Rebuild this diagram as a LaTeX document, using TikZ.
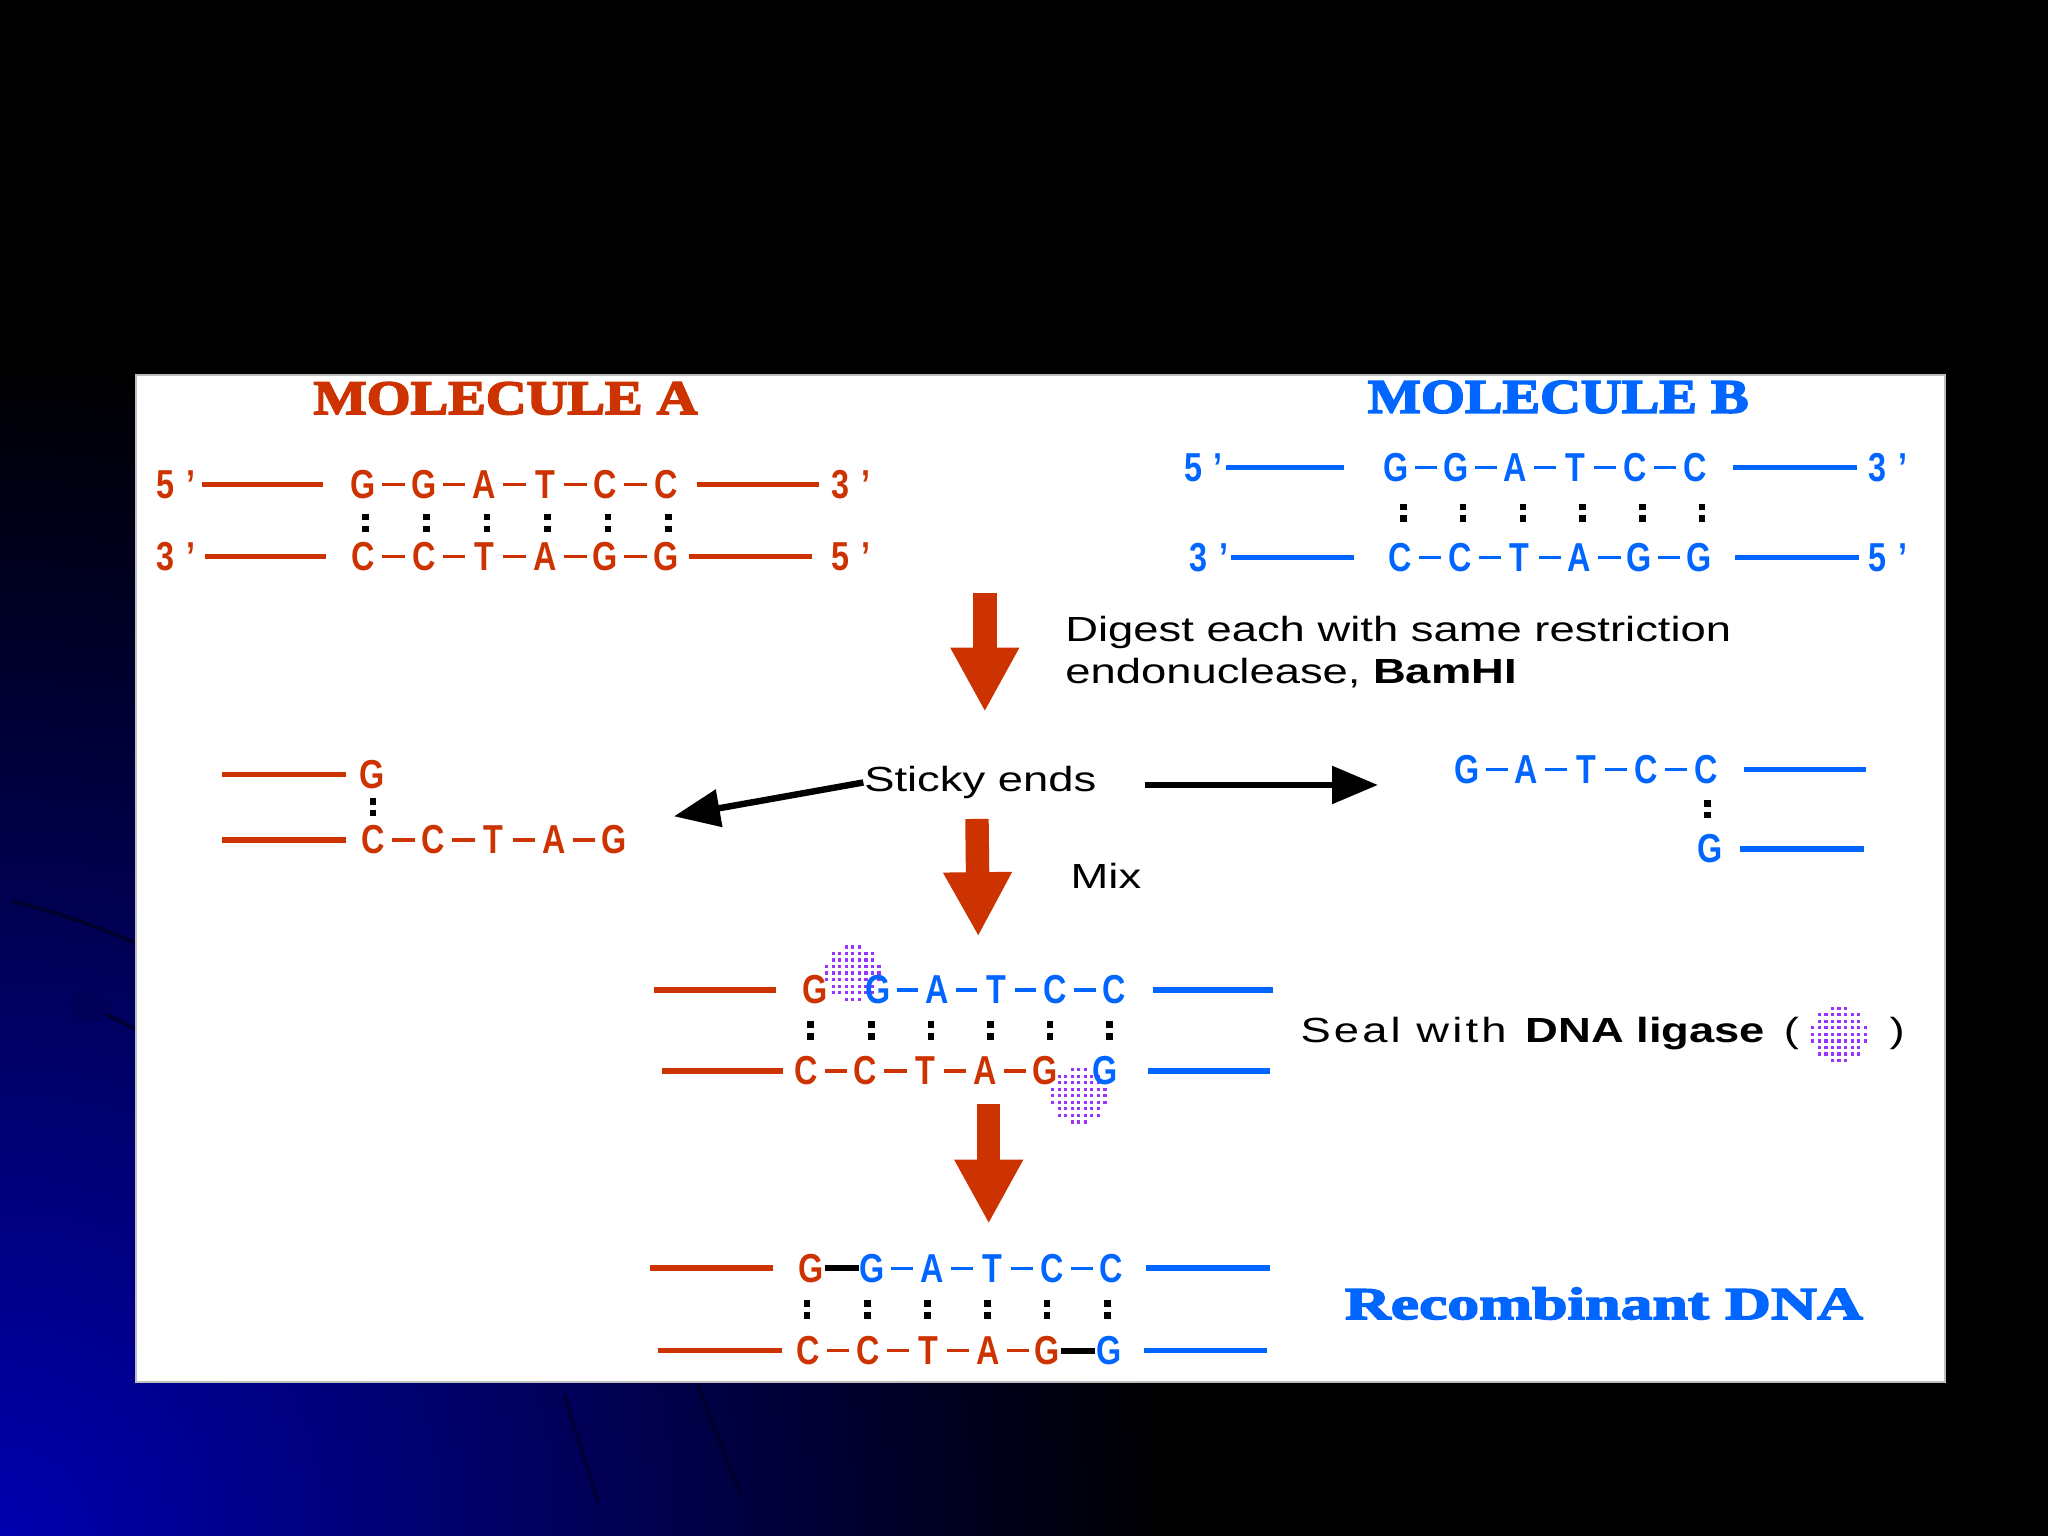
\documentclass[tikz,border=0pt]{standalone}
\usepackage{fontspec}
\usepackage{xcolor}
\usepackage{tikz}
\usetikzlibrary{arrows.meta, positioning, calc}
\setmainfont{Liberation Sans}
\newfontfamily\dnafont[FakeStretch=0.8]{Liberation Sans}
\newfontfamily\stagefont[FakeStretch=1.3]{Liberation Sans}
\newfontfamily\moltitlefont[FakeStretch=1.17, BoldFeatures={FakeBold=3.5}]{Liberation Serif}
\newfontfamily\resultfont[FakeStretch=1.4, BoldFeatures={FakeBold=3.5}]{Liberation Serif}
\definecolor{MolRed}{HTML}{CC3300}
\definecolor{MolBlue}{HTML}{0066FF}
\definecolor{LigasePurple}{HTML}{9933FF}
\definecolor{SlideBlue}{HTML}{0000B0}

\begin{document}
\begin{tikzpicture}[x=0.01cm, y=-0.01cm,
  every node/.style={inner sep=0pt},
  nuc/.style={font=\dnafont\bfseries\fontsize{8.8pt}{10pt}\selectfont, minimum width=5.6pt},
  nucA/.style={nuc, text=MolRed},
  nucB/.style={nuc, text=MolBlue},
  endA/.style={nucA, minimum width=0pt},
  endB/.style={nucB, minimum width=0pt},
  strandA/.style={draw=MolRed, line width=1.2pt},
  strandB/.style={draw=MolBlue, line width=1.2pt},
  linkA/.style={draw=MolRed, line width=0.75pt, shorten <=1.1pt, shorten >=1.1pt},
  linkB/.style={draw=MolBlue, line width=0.75pt, shorten <=1.1pt, shorten >=1.1pt},
  sealed/.style={draw=black, line width=1.3pt},
  bigarrow/.style={draw=MolRed, line width=5.1pt, -{Triangle[length=14pt, width=14pt]}},
  thinarrow/.style={draw=black, line width=1.4pt, -{Triangle[length=10pt, width=8pt]}},
  stagetext/.style={font=\stagefont\fontsize{7.6pt}{9.1pt}\selectfont, align=left},
  moltitle/.style={font=\moltitlefont\bfseries\fontsize{10.5pt}{12pt}\selectfont},
  hbond/.pic={\fill (-2.5,-7) rectangle (2.5,-2); \fill (-2.5,2) rectangle (2.5,7);},
  ligase/.pic={
    \foreach \i in {-4,...,4}
      \foreach \j in {-4,...,4} {
        \pgfmathtruncatemacro\inside{(\i*\i+\j*\j<=18)}
        \ifnum\inside=1 \fill[LigasePurple] (\i*5-1.2,\j*5-1.2) rectangle ++(2.4,2.4);\fi
      }}
]
\useasboundingbox (0,0) rectangle (1568,1176);

% slide background
\fill[black] (0,0) rectangle (1568,1176);
\begin{scope}
  \clip (0,0) rectangle (1568,1176);
  \shade[inner color=SlideBlue, outer color=black] (0,1176) circle (900);
  \draw[SlideBlue!25!black, line width=0.8pt] (10,690) .. controls (50,700) and (80,712) .. (104,722);
  \draw[SlideBlue!30!black, line width=0.8pt] (68,770) -- (104,788);
  \fill[SlideBlue!50!black] (68,770) ellipse (15 and 13);
  \fill[SlideBlue!50!black] (432,1068) ellipse (15 and 14);
  \draw[SlideBlue!30!black, line width=0.8pt] (432,1068) -- (458,1150);
  \draw[SlideBlue!25!black, line width=0.8pt] (534,1060) -- (567,1145);
\end{scope}
\fill[white, draw=gray!50, line width=0.4pt] (104,287) rectangle (1489,1058);

% molecule A
\node[moltitle, text=MolRed] (titleA) at (387,305) {MOLECULE A};
\node[endA, anchor=east] (a5top) at (150,371) {5\hspace{2.5pt}’};
\node[endA, anchor=east] (a3bot) at (150,426) {3\hspace{2.5pt}’};
\node[endA, anchor=west] (a3top) at (636,371) {3\hspace{2.5pt}’};
\node[endA, anchor=west] (a5bot) at (636,426) {5\hspace{2.5pt}’};
\foreach \b [count=\i] in {G,G,A,T,C,C}
  \node[nucA] (at\i) at ({278+46.4*(\i-1)},371) {\b};
\foreach \b [count=\i] in {C,C,T,A,G,G}
  \node[nucA] (ab\i) at ({278+46.4*(\i-1)},426) {\b};
\foreach \i [count=\j from 2] in {1,...,5} {
  \draw[linkA] (at\i) -- (at\j);
  \draw[linkA] (ab\i) -- (ab\j);
}
\foreach \i in {1,...,6} \pic at ($(at\i)!0.5!(ab\i)+(2,2)$) {hbond};
\draw[strandA, shorten <=1.4pt, shorten >=5.7pt] (a5top.east) -- (at1.west);
\draw[strandA, shorten <=3.7pt, shorten >=2.6pt] (at6.east) -- (a3top.west);
\draw[strandA, shorten <=2pt, shorten >=5.1pt] (a3bot.east) -- (ab1.west);
\draw[strandA, shorten <=2pt, shorten >=4pt] (ab6.east) -- (a5bot.west);

% molecule B
\node[moltitle, text=MolBlue] (titleB) at (1193,304) {MOLECULE B};
\node[endB, anchor=east] (b5top) at (937,358) {5\hspace{2.5pt}’};
\node[endB, anchor=east] (b3bot) at (941,427) {3\hspace{2.5pt}’};
\node[endB, anchor=west] (b3top) at (1430,358) {3\hspace{2.5pt}’};
\node[endB, anchor=west] (b5bot) at (1430,427) {5\hspace{2.5pt}’};
\foreach \b [count=\i] in {G,G,A,T,C,C}
  \node[nucB] (bt\i) at ({1069+45.7*(\i-1)},358) {\b};
\foreach \b [count=\i] in {C,C,T,A,G,G}
  \node[nucB] (bb\i) at ({1072+45.8*(\i-1)},427) {\b};
\foreach \i [count=\j from 2] in {1,...,5} {
  \draw[linkB] (bt\i) -- (bt\j);
  \draw[linkB] (bb\i) -- (bb\j);
}
\foreach \i in {1,...,6} \pic at ($(bt\i)!0.5!(bb\i)+(4,0)$) {hbond};
\draw[strandB, shorten <=0.5pt, shorten >=8.3pt] (b5top.east) -- (bt1.west);
\draw[strandB, shorten <=5.4pt, shorten >=2.3pt] (bt6.east) -- (b3top.west);
\draw[strandB, shorten <=0.5pt, shorten >=7.1pt] (b3bot.east) -- (bb1.west);
\draw[strandB, shorten <=4.8pt, shorten >=2pt] (bb6.east) -- (b5bot.west);

% digestion
\coordinate (digtop) at (754,454);
\coordinate (digtip) at (754,545);
\draw[bigarrow] (digtop) -- (digtip);
\node[stagetext, anchor=north west] (digest) at (815,471)
  {Digest each with same restriction\\endonuclease, \textbf{BamHI}};

% sticky ends
\node[stagetext, anchor=base west] (sticky) at (661,606) {Sticky ends};
\coordinate (stickyL) at (516,625);
\coordinate (stickyR0) at (877,601);
\coordinate (stickyR) at (1055,601);
\draw[thinarrow] (sticky.west) -- (stickyL);
\draw[thinarrow] (stickyR0) -- (stickyR);

\node[nucA] (lfg) at (285,593) {G};
\foreach \b [count=\i] in {C,C,T,A,G}
  \node[nucA] (lf\i) at ({286+46*(\i-1)},643) {\b};
\foreach \i [count=\j from 2] in {1,...,4} \draw[linkA] (lf\i) -- (lf\j);
\pic at ($(lfg)!0.5!(lf1)$) {hbond};
\coordinate (lftopL) at (170,593);
\coordinate (lfbotL) at (170,643);
\draw[strandA, shorten >=2.8pt] (lftopL) -- (lfg.west);
\draw[strandA, shorten >=3pt] (lfbotL) -- (lf1.west);

\foreach \b [count=\i] in {G,A,T,C,C}
  \node[nucB] (rf\i) at ({1123+45.75*(\i-1)},589) {\b};
\node[nucB] (rfg) at (1309,650) {G};
\foreach \i [count=\j from 2] in {1,...,4} \draw[linkB] (rf\i) -- (rf\j);
\pic at ($(rf5)!0.5!(rfg)$) {hbond};
\coordinate (rftopR) at (1429,589);
\coordinate (rfbotR) at (1427,650);
\draw[strandB, shorten <=5.4pt] (rf5.east) -- (rftopR);
\draw[strandB, shorten <=3.7pt] (rfg.east) -- (rfbotR);

% mixing
\coordinate (mixtop) at (748,627);
\coordinate (mixtip) at (749,717);
\draw[bigarrow] (mixtop) -- (mixtip);
\node[stagetext, anchor=base west] (mix) at (819,680) {Mix};

\pic at (653,745) {ligase};
\pic at (826,839) {ligase};
\node[nucA] (mt0) at (624,758) {G};
\foreach \b [count=\i] in {G,A,T,C,C}
  \node[nucB] (mt\i) at ({672+45.3*(\i-1)},758) {\b};
\foreach \b [count=\i] in {C,C,T,A,G}
  \node[nucA] (mb\i) at ({617+45.75*(\i-1)},820) {\b};
\node[nucB] (mb6) at (846,820) {G};
\foreach \i [count=\j from 2] in {1,...,4} {
  \draw[linkB] (mt\i) -- (mt\j);
  \draw[linkA] (mb\i) -- (mb\j);
}
\foreach \i [count=\j] in {0,...,5} \pic at ($(mt\i)!0.5!(mb\j)$) {hbond};
\coordinate (mtL) at (501,758);
\coordinate (mtR) at (975,758);
\coordinate (mbL) at (507,820);
\coordinate (mbR) at (972,820);
\draw[strandA, shorten >=5.4pt] (mtL) -- (mt0.west);
\draw[strandB, shorten <=5.4pt] (mt5.east) -- (mtR);
\draw[strandA, shorten >=2pt] (mbL) -- (mb1.west);
\draw[strandB, shorten <=6.3pt] (mb6.east) -- (mbR);

\node[stagetext, anchor=base west] (seal) at (995,798)
  {{\addfontfeature{LetterSpace=9}Seal with }\textbf{DNA ligase}};
\node[stagetext, anchor=base west] (sealopen) at (1365,798) {(};
\pic at (1408,792) {ligase};
\node[stagetext, anchor=base west] (sealend) at (1446,798) {)};

% ligation
\coordinate (ligtop) at (757,845);
\coordinate (ligtip) at (757,937);
\draw[bigarrow] (ligtop) -- (ligtip);

\node[nucA] (ft0) at (621,971) {G};
\foreach \b [count=\i] in {G,A,T,C,C}
  \node[nucB] (ft\i) at ({668+45.75*(\i-1)},971) {\b};
\foreach \b [count=\i] in {C,C,T,A,G}
  \node[nucA] (fb\i) at ({619+45.75*(\i-1)},1034) {\b};
\node[nucB] (fb6) at (849,1034) {G};
\foreach \i [count=\j from 2] in {1,...,4} {
  \draw[linkB] (ft\i) -- (ft\j);
  \draw[linkA] (fb\i) -- (fb\j);
}
\draw[sealed] (ft0) -- (ft1);
\draw[sealed] (fb5) -- (fb6);
\foreach \i [count=\j] in {0,...,5} \pic at ($(ft\i)!0.5!(fb\j)+(-2,0)$) {hbond};
\coordinate (ftL) at (498,971);
\coordinate (ftR) at (972,971);
\coordinate (fbL) at (504,1034);
\coordinate (fbR) at (970,1034);
\draw[strandA, shorten >=5.4pt] (ftL) -- (ft0.west);
\draw[strandB, shorten <=4.6pt] (ft5.east) -- (ftR);
\draw[strandA, shorten >=2.8pt] (fbL) -- (fb1.west);
\draw[strandB, shorten <=4.6pt] (fb6.east) -- (fbR);

\node[font=\resultfont\bfseries\fontsize{9.9pt}{12pt}\selectfont, text=MolBlue] (recomb) at (1228,998) {Recombinant DNA};
\end{tikzpicture}
\end{document}
